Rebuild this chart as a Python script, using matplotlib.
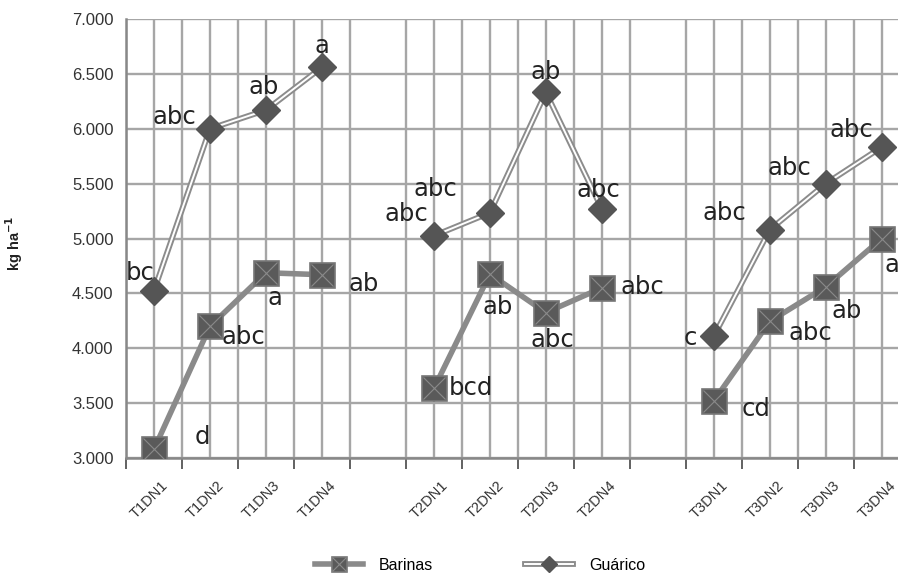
import matplotlib
matplotlib.use("Agg")
from matplotlib import pyplot as plt
from matplotlib import transforms
from matplotlib.legend_handler import HandlerTuple
from matplotlib.ticker import FixedLocator, FuncFormatter, NullFormatter

# categories (None = empty slot between groups)
categories = ["T1DN1", "T1DN2", "T1DN3", "T1DN4", None,
              "T2DN1", "T2DN2", "T2DN3", "T2DN4", None,
              "T3DN1", "T3DN2", "T3DN3", "T3DN4"]

barinas = [3080, 4200, 4688, 4670, 3634, 4676, 4325, 4550, 3521, 4245, 4560, 5000]
guarico = [4525, 6000, 6170, 6560, 5025, 5234, 6332, 5270, 4110, 5080, 5500, 5833]

barinas_letters = ["d", "abc", "a", "ab", "bcd", "ab", "abc", "abc", "cd", "abc", "ab", "a"]
guarico_letters = ["bc", "abc", "ab", "a", "abc", "abc", "ab", "abc", "c", "abc", "abc", "abc"]

# label offsets in pixels (dx, dy)
barinas_offsets = [(48, 12), (33, -11), (9, -25), (42, -9), (37, 0), (8, -33),
                   (7, -27), (41, 1), (42, -8), (41, -12), (21, -24), (10, -26)]
guarico_offsets = [(-14, 18), (-36, 12), (-2, 23), (0, 21), (-28, 22), (-55, 24),
                   (0, 20), (-3, 19), (-24, -2), (-45, 17), (-36, 16), (-30, 17)]

x_pos = [i for i, c in enumerate(categories) if c is not None]
labels = [c for c in categories if c is not None]

fig = plt.figure(figsize=(8.98, 5.81), dpi=100)
ax = fig.add_axes([0.1403, 0.2117, 0.8597, 0.7556])

grid_col = "#a6a6a6"
ax.set_xlim(-0.5, 13.29)
ax.set_ylim(3000, 7000)
ax.set_yticks(range(3000, 7001, 500))
ax.yaxis.set_major_formatter(FuncFormatter(lambda v, p: f"{int(v):,}".replace(",", ".")))
ax.xaxis.set_major_locator(FixedLocator(x_pos))
ax.xaxis.set_major_formatter(NullFormatter())
ax.xaxis.set_minor_locator(FixedLocator([i + 0.5 for i in range(-1, 14)]))
ax.tick_params(axis="x", which="major", length=0)
ax.tick_params(axis="x", which="minor", length=8, width=1.3, color="#555555", direction="out")
ax.tick_params(axis="y", length=0, pad=9, labelsize=12, labelcolor="#333333")
for t in ax.get_yticklabels():
    t.set_family("Liberation Sans")

# rotated category labels
lab_trans = ax.get_xaxis_transform() + transforms.ScaledTranslation(
    7 / 100, -20 / 100, fig.dpi_scale_trans)
for x, lab in zip(x_pos, labels):
    ax.text(x, 0, lab, transform=lab_trans, rotation=45, ha="right", va="top",
            rotation_mode="anchor", fontsize=10.5, family="Liberation Sans",
            color="#333333", clip_on=False)

ax.grid(True, axis="x", which="both", color=grid_col, lw=1.7)
ax.grid(True, axis="y", which="major", color=grid_col, lw=1.7)
ax.set_axisbelow(True)
for s in ["top", "right"]:
    ax.spines[s].set_visible(False)
ax.spines["left"].set_color("#888888")
ax.spines["left"].set_linewidth(1.8)
ax.spines["bottom"].set_color("#888888")
ax.spines["bottom"].set_linewidth(1.8)

groups = [x_pos[0:4], x_pos[4:8], x_pos[8:12]]
for gi, g in enumerate(groups):
    sl = slice(gi * 4, gi * 4 + 4)
    # Guárico: double line
    g_outer, = ax.plot(g, guarico[sl], color="#8c8c8c", lw=4.2, zorder=3)
    g_inner, = ax.plot(g, guarico[sl], color="white", lw=1.4, zorder=3.1,
                       marker="D", markersize=14, markerfacecolor="#555555",
                       markeredgecolor="#555555")
    # Barinas: thick line, boxed-x markers
    b_line, = ax.plot(g, barinas[sl], color="#8a8a8a", lw=4, zorder=4,
                      marker="s", markersize=18, markerfacecolor="#5a5a5a",
                      markeredgecolor="#777777", markeredgewidth=1.2)
    b_x, = ax.plot(g, barinas[sl], ls="none", marker="x", markersize=16,
                   color="#8a8a8a", markeredgewidth=0.8, zorder=4.1)

for x, y, t, (dx, dy) in zip(x_pos, guarico, guarico_letters, guarico_offsets):
    ax.annotate(t, (x, y), xytext=(dx, dy), textcoords="offset pixels",
                ha="center", va="center", fontsize=17.5, color="#222222", zorder=6)
for x, y, t, (dx, dy) in zip(x_pos, barinas, barinas_letters, barinas_offsets):
    ax.annotate(t, (x, y), xytext=(dx, dy), textcoords="offset pixels",
                ha="center", va="center", fontsize=17.5, color="#222222", zorder=6)

ax.set_ylabel("kg ha$^{\\mathbf{-1}}$", fontsize=10.5, fontweight="bold",
              family="Liberation Sans", color="#222222")
ax.yaxis.set_label_coords(-0.131, 0.49)

fig.legend([(b_line, b_x), (g_outer, g_inner)], ["Barinas", "Guárico"],
           handler_map={tuple: HandlerTuple(ndivide=1)},
           loc="center", bbox_to_anchor=(0.5345, 0.027), ncol=2, frameon=False,
           prop={"family": "Liberation Sans", "size": 11.5}, handlelength=3,
           handletextpad=1, columnspacing=5.8, markerscale=0.6)

fig.savefig("out.png", dpi=100)
